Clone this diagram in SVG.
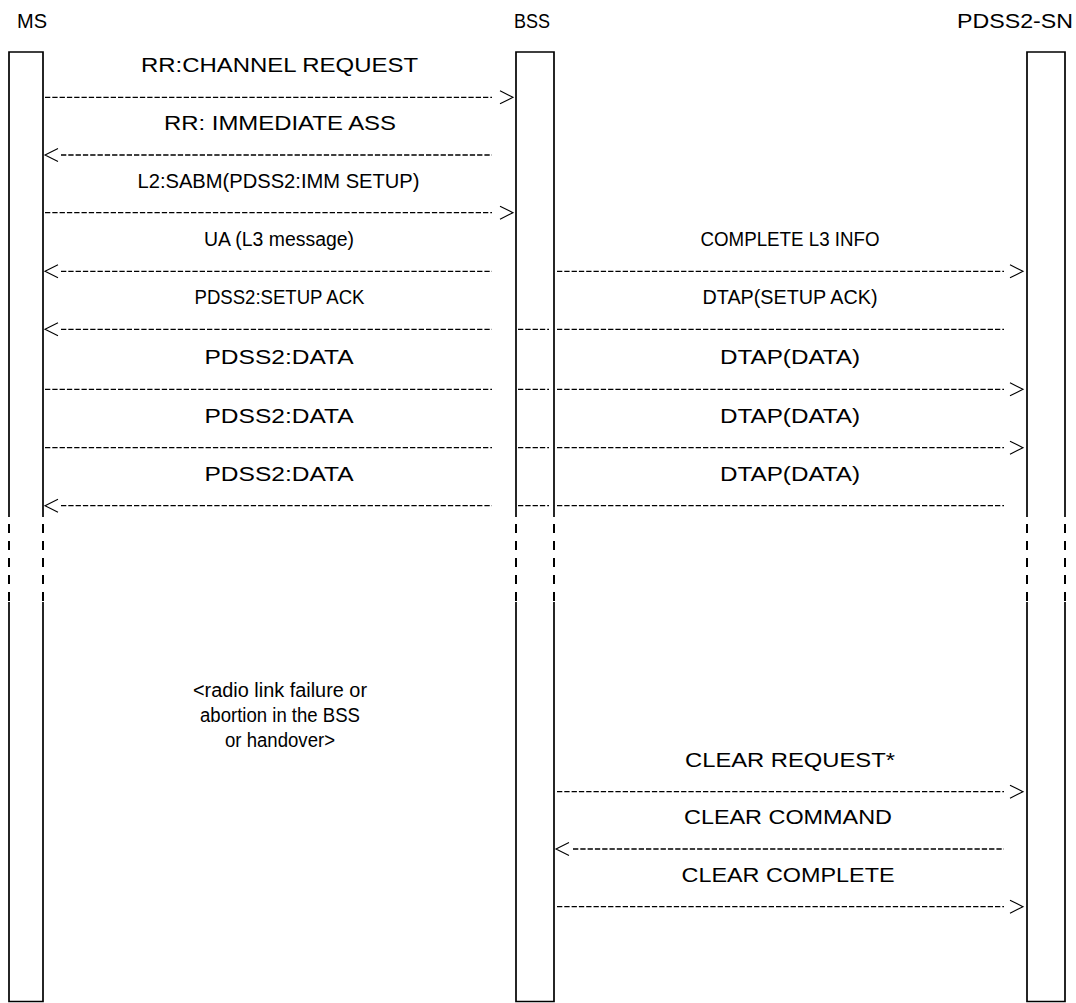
<svg xmlns="http://www.w3.org/2000/svg" width="1076" height="1003" viewBox="0 0 1076 1003">
<style>
  .bg{fill:#fff}
  .box{fill:none;stroke:#000;stroke-width:1.7}
  .brk{fill:none;stroke:#000;stroke-width:2;stroke-dasharray:9 8;stroke-dashoffset:10}
  .msg{fill:none;stroke:#000;stroke-width:1.3;stroke-dasharray:5.3 2}
  .ah{fill:none;stroke:#000;stroke-width:1.1}
  text{font-family:"Liberation Sans",Arial,sans-serif;font-size:20px;fill:#000;text-anchor:middle}
</style>
<rect class="bg" x="0" y="0" width="1076" height="1003"/>

<g id="node-ms">
  <text x="32" y="28" textLength="30" lengthAdjust="spacingAndGlyphs">MS</text>
  <path class="box" d="M9,517 V52 H43 V517 M9,602 V1001.5 H43 V602"/>
  <path class="brk" d="M9,517 V602 M43,517 V602"/>
</g>
<g id="node-bss">
  <text x="532" y="28" textLength="36" lengthAdjust="spacingAndGlyphs">BSS</text>
  <path class="box" d="M516,517 V52 H554 V517 M516,602 V1001.5 H554 V602"/>
  <path class="brk" d="M516,517 V602 M554,517 V602"/>
</g>
<g id="node-pdss2sn">
  <text x="1015" y="28" textLength="116" lengthAdjust="spacingAndGlyphs">PDSS2-SN</text>
  <path class="box" d="M1027,517 V52 H1065 V517 M1027,602 V1001.5 H1065 V602"/>
  <path class="brk" d="M1027,517 V602 M1065,517 V602"/>
</g>

<g id="connectors">
  <line class="msg" x1="45" y1="97.3" x2="492" y2="97.3"/>
  <polyline class="ah" points="500,90.8 513,97.3 500,103.8"/>
  <polyline class="ah" points="58,148.5 45,155 58,161.5"/>
  <line class="msg" x1="61" y1="155" x2="492" y2="155"/>
  <line class="msg" x1="45" y1="212.7" x2="492" y2="212.7"/>
  <polyline class="ah" points="500,206.2 513,212.7 500,219.2"/>
  <polyline class="ah" points="58,264.8 45,271.3 58,277.8"/>
  <line class="msg" x1="61" y1="271.3" x2="492" y2="271.3"/>
  <line class="msg" x1="557" y1="271.3" x2="1004" y2="271.3"/>
  <polyline class="ah" points="1010,264.8 1023,271.3 1010,277.8"/>
  <polyline class="ah" points="58,322.8 45,329.3 58,335.8"/>
  <line class="msg" x1="61" y1="329.3" x2="492" y2="329.3"/>
  <line class="msg" x1="518" y1="329.3" x2="549" y2="329.3"/>
  <line class="msg" x1="557" y1="329.3" x2="1004" y2="329.3"/>
  <line class="msg" x1="45" y1="389.3" x2="492" y2="389.3"/>
  <line class="msg" x1="518" y1="389.3" x2="549" y2="389.3"/>
  <line class="msg" x1="557" y1="389.3" x2="1004" y2="389.3"/>
  <polyline class="ah" points="1010,382.8 1023,389.3 1010,395.8"/>
  <line class="msg" x1="45" y1="447.7" x2="492" y2="447.7"/>
  <line class="msg" x1="518" y1="447.7" x2="549" y2="447.7"/>
  <line class="msg" x1="557" y1="447.7" x2="1004" y2="447.7"/>
  <polyline class="ah" points="1010,441.2 1023,447.7 1010,454.2"/>
  <polyline class="ah" points="58,499.2 45,505.7 58,512.2"/>
  <line class="msg" x1="61" y1="505.7" x2="492" y2="505.7"/>
  <line class="msg" x1="518" y1="505.7" x2="549" y2="505.7"/>
  <line class="msg" x1="557" y1="505.7" x2="1004" y2="505.7"/>
  <line class="msg" x1="557" y1="791.7" x2="1004" y2="791.7"/>
  <polyline class="ah" points="1010,785.2 1023,791.7 1010,798.2"/>
  <polyline class="ah" points="569,842.5 556,849 569,855.5"/>
  <line class="msg" x1="573" y1="849" x2="1004" y2="849"/>
  <line class="msg" x1="557" y1="906.7" x2="1004" y2="906.7"/>
  <polyline class="ah" points="1010,900.2 1023,906.7 1010,913.2"/>
</g>

<g id="labels">
  <text x="279.5" y="72" textLength="277" lengthAdjust="spacingAndGlyphs">RR:CHANNEL REQUEST</text>
  <text x="280" y="130" textLength="232" lengthAdjust="spacingAndGlyphs">RR: IMMEDIATE ASS</text>
  <text x="278.5" y="188" textLength="282" lengthAdjust="spacingAndGlyphs">L2:SABM(PDSS2:IMM SETUP)</text>
  <text x="279" y="246" textLength="150" lengthAdjust="spacingAndGlyphs">UA (L3 message)</text>
  <text x="790" y="246" textLength="179" lengthAdjust="spacingAndGlyphs">COMPLETE L3 INFO</text>
  <text x="279.5" y="304" textLength="170" lengthAdjust="spacingAndGlyphs">PDSS2:SETUP ACK</text>
  <text x="790" y="304" textLength="175" lengthAdjust="spacingAndGlyphs">DTAP(SETUP ACK)</text>
  <text x="279" y="364" textLength="149" lengthAdjust="spacingAndGlyphs">PDSS2:DATA</text>
  <text x="790" y="364" textLength="140" lengthAdjust="spacingAndGlyphs">DTAP(DATA)</text>
  <text x="279" y="423" textLength="149" lengthAdjust="spacingAndGlyphs">PDSS2:DATA</text>
  <text x="790" y="423" textLength="140" lengthAdjust="spacingAndGlyphs">DTAP(DATA)</text>
  <text x="279" y="481" textLength="149" lengthAdjust="spacingAndGlyphs">PDSS2:DATA</text>
  <text x="790" y="481" textLength="140" lengthAdjust="spacingAndGlyphs">DTAP(DATA)</text>
  <text x="280" y="697" textLength="174" lengthAdjust="spacingAndGlyphs">&lt;radio link failure or</text>
  <text x="280" y="722" textLength="160" lengthAdjust="spacingAndGlyphs">abortion in the BSS</text>
  <text x="280" y="747" textLength="110" lengthAdjust="spacingAndGlyphs">or handover&gt;</text>
  <text x="790" y="767" textLength="210" lengthAdjust="spacingAndGlyphs">CLEAR REQUEST*</text>
  <text x="788" y="824" textLength="208" lengthAdjust="spacingAndGlyphs">CLEAR COMMAND</text>
  <text x="788" y="882" textLength="213" lengthAdjust="spacingAndGlyphs">CLEAR COMPLETE</text>
</g>
</svg>
